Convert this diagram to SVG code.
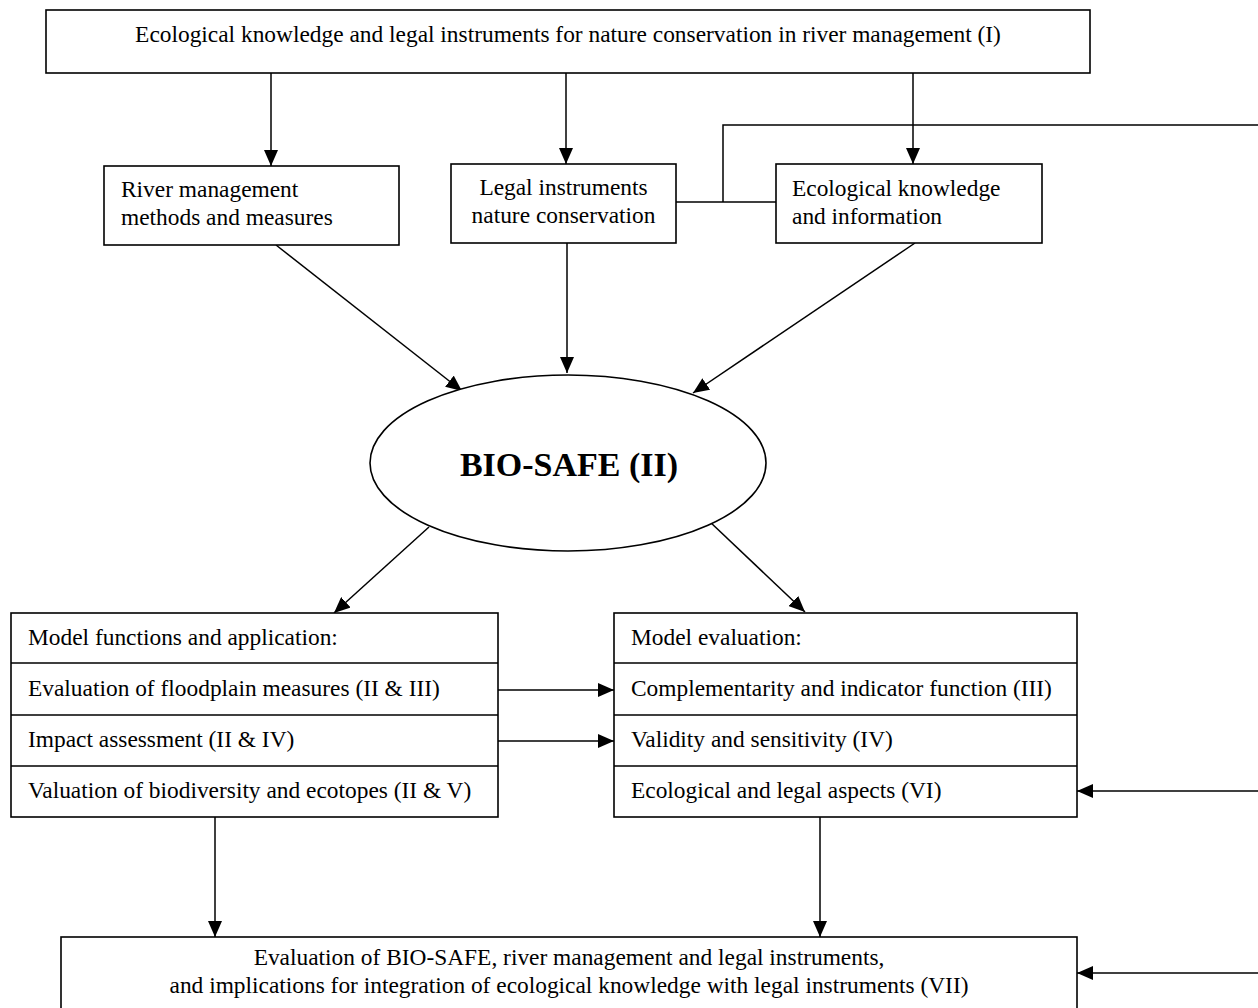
<svg xmlns="http://www.w3.org/2000/svg" width="1258" height="1008" viewBox="0 0 1258 1008">
<defs>
<marker id="ah" markerUnits="userSpaceOnUse" markerWidth="16" markerHeight="14" refX="16" refY="7" orient="auto">
<path d="M0,0 L16,7 L0,14 z" fill="#000"/>
</marker>
<style>
.box{fill:#fff;stroke:#000;stroke-width:1.6}
.ln{fill:none;stroke:#000;stroke-width:1.5}
.t{font-family:"Liberation Serif","Times New Roman",serif;font-size:23.4px;fill:#000}
.c{text-anchor:middle}
.b{font-family:"Liberation Serif","Times New Roman",serif;font-size:34px;font-weight:bold;fill:#000;text-anchor:middle}
</style>
</defs>
<rect width="1258" height="1008" fill="#fff"/>

<g id="connectors">
<path class="ln" d="M271,73 V166" marker-end="url(#ah)"/>
<path class="ln" d="M566,73 V164" marker-end="url(#ah)"/>
<path class="ln" d="M913,73 V164" marker-end="url(#ah)"/>
<path class="ln" d="M276,245 L462,391" marker-end="url(#ah)"/>
<path class="ln" d="M567,243 V373" marker-end="url(#ah)"/>
<path class="ln" d="M915,243 L693,393" marker-end="url(#ah)"/>
<path class="ln" d="M429,527 L334,613" marker-end="url(#ah)"/>
<path class="ln" d="M709,521 L805,612" marker-end="url(#ah)"/>
<path class="ln" d="M498,690 H614" marker-end="url(#ah)"/>
<path class="ln" d="M498,741 H614" marker-end="url(#ah)"/>
<path class="ln" d="M1258,791 H1077" marker-end="url(#ah)"/>
<path class="ln" d="M215,817 V937" marker-end="url(#ah)"/>
<path class="ln" d="M820,817 V937" marker-end="url(#ah)"/>
<path class="ln" d="M1258,973 H1077" marker-end="url(#ah)"/>
<path class="ln" d="M676,202 H776 M723,202 V125 H1258"/>
</g>

<g id="top">
<rect class="box" x="46" y="10" width="1044" height="63"/>
<text class="t c" x="568" y="42">Ecological knowledge and legal instruments for nature conservation in river management (I)</text>
</g>

<g id="river">
<rect class="box" x="104" y="166" width="295" height="79"/>
<text class="t" x="121" y="197">River management</text>
<text class="t" x="121" y="225">methods and measures</text>
</g>

<g id="legal">
<rect class="box" x="451" y="164" width="225" height="79"/>
<text class="t c" x="563.5" y="195">Legal instruments</text>
<text class="t c" x="563.5" y="223">nature conservation</text>
</g>

<g id="eco">
<rect class="box" x="776" y="164" width="266" height="79"/>
<text class="t" x="792" y="196">Ecological knowledge</text>
<text class="t" x="792" y="224">and information</text>
</g>

<g id="biosafe">
<ellipse class="box" cx="568" cy="463" rx="198" ry="88"/>
<text class="b" x="569" y="476">BIO-SAFE (II)</text>
</g>

<g id="model-functions">
<rect class="box" x="11" y="613" width="487" height="204"/>
<path class="ln" d="M11,663 H498 M11,715 H498 M11,766 H498"/>
<text class="t" x="28" y="645">Model functions and application:</text>
<text class="t" x="28" y="696">Evaluation of floodplain measures (II &amp; III)</text>
<text class="t" x="28" y="747">Impact assessment (II &amp; IV)</text>
<text class="t" x="28" y="798">Valuation of biodiversity and ecotopes (II &amp; V)</text>
</g>

<g id="model-evaluation">
<rect class="box" x="614" y="613" width="463" height="204"/>
<path class="ln" d="M614,663 H1077 M614,715 H1077 M614,766 H1077"/>
<text class="t" x="631" y="645">Model evaluation:</text>
<text class="t" x="631" y="696">Complementarity and indicator function (III)</text>
<text class="t" x="631" y="747">Validity and sensitivity (IV)</text>
<text class="t" x="631" y="798">Ecological and legal aspects (VI)</text>
</g>

<g id="final">
<rect class="box" x="61" y="937" width="1016" height="100"/>
<text class="t c" x="569" y="965">Evaluation of BIO-SAFE, river management and legal instruments,</text>
<text class="t c" x="569" y="993">and implications for integration of ecological knowledge with legal instruments (VII)</text>
</g>
</svg>
